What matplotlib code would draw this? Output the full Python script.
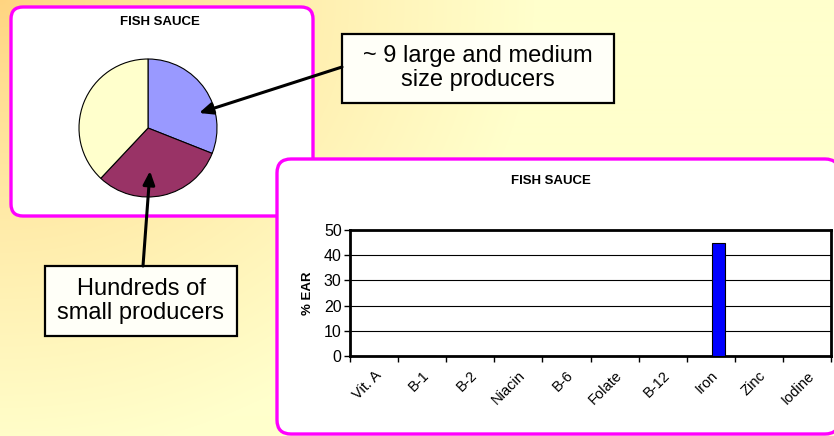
import numpy as np
import matplotlib
matplotlib.use("Agg")
import matplotlib.pyplot as plt
from matplotlib.patches import FancyBboxPatch, Rectangle

plt.rcParams['font.family'] = ['Liberation Sans', 'DejaVu Sans']

# ---- data ----
pie_title = "FISH SAUCE"
pie_labels = ["Large and medium producers", "Small producers", "Other"]
pie_values = [31, 31, 38]
pie_colors = ["#9999FF", "#993366", "#FFFFCC"]

bar_title = "FISH SAUCE"
nutrients = ["Vit. A", "B-1", "B-2", "Niacin", "B-6", "Folate", "B-12", "Iron", "Zinc", "Iodine"]
pct_ear = [0, 0, 0, 0, 0, 0, 0, 45, 0, 0]
y_ticks = [0, 10, 20, 30, 40, 50]

callout_big = "~ 9 large and medium\nsize producers"
callout_small = "Hundreds of\nsmall producers"

W, H = 834, 436
fig = plt.figure(figsize=(W / 100, H / 100), dpi=100)


def px_rect(x0, y0, x1, y1):
    return [x0 / W, 1 - y1 / H, (x1 - x0) / W, (y1 - y0) / H]


# ---- background ----
bg = fig.add_axes([0, 0, 1, 1], zorder=0)
bg.set_xlim(0, W)
bg.set_ylim(H, 0)
bg.axis("off")
yy, xx = np.mgrid[0:H, 0:W]
d = np.sqrt((xx * 0.9) ** 2 + (yy * 1.05) ** 2)
t = np.clip(d / 480.0, 0, 1) ** 0.85
c0 = np.array([255, 212, 128]) / 255.0
c1 = np.array([255, 255, 204]) / 255.0
img = c0[None, None, :] * (1 - t[..., None]) + c1[None, None, :] * t[..., None]
bg.imshow(img, extent=(0, W, H, 0), aspect="auto", interpolation="bilinear")

mag = "#FF00FF"
bg.add_patch(FancyBboxPatch((11, 7), 302, 209, boxstyle="round,pad=0,rounding_size=12",
                            facecolor="white", edgecolor=mag, linewidth=2.4, zorder=2))
bg.add_patch(FancyBboxPatch((277, 159), 562, 275, boxstyle="round,pad=0,rounding_size=14",
                            facecolor="white", edgecolor=mag, linewidth=2.4, zorder=3))
bg.text(160, 22, pie_title, ha="center", va="center", fontsize=9.5, fontweight="bold", zorder=4)
bg.text(551, 181, bar_title, ha="center", va="center", fontsize=9.5, fontweight="bold", zorder=4)

# ---- pie ----
cx, cy, r = 148, 128, 69
half = 76
axp = fig.add_axes(px_rect(cx - half, cy - half, cx + half, cy + half), zorder=1)
axp.pie(pie_values, colors=pie_colors, startangle=90, counterclock=False,
        wedgeprops=dict(edgecolor="black", linewidth=0.8), radius=1)
axp.set_xlim(-half / r, half / r)
axp.set_ylim(-half / r, half / r)
axp.set_aspect("equal")
axp.axis("off")
axp.patch.set_alpha(0)

# ---- bar chart ----
axb = fig.add_axes(px_rect(350, 230, 831, 356), zorder=1)
axb.patch.set_facecolor("white")
pos = np.arange(len(nutrients))
axb.bar(pos + 0.5 + 0.155, pct_ear, width=0.27, color="#0000FF", edgecolor="black", linewidth=0.8, zorder=3)
axb.set_xlim(0, len(nutrients))
axb.set_ylim(0, 50)
axb.set_yticks(y_ticks)
axb.set_yticklabels([str(v) for v in y_ticks], fontsize=11.5)
axb.set_xticks(np.arange(len(nutrients) + 1))
axb.set_xticklabels([])
axb.set_xticks(pos + 0.5, minor=True)
axb.set_xticklabels(nutrients, minor=True, rotation=45, ha="right", va="top",
                    rotation_mode="anchor", fontsize=10.5)
axb.tick_params(axis="x", which="major", direction="out", length=4, width=1)
axb.tick_params(axis="x", which="minor", length=0, pad=9)
axb.tick_params(axis="y", direction="out", length=4, width=1, pad=2)
axb.grid(axis="y", color="black", linewidth=0.8, zorder=1)
axb.set_axisbelow(True)
for s in axb.spines.values():
    s.set_linewidth(2)
    s.set_color("black")
axb.set_ylabel("% EAR", fontsize=9.5, fontweight="bold", labelpad=7)

# ---- overlay: callouts and arrows ----
ov = fig.add_axes([0, 0, 1, 1], zorder=5)
ov.set_xlim(0, W)
ov.set_ylim(H, 0)
ov.axis("off")
ov.patch.set_alpha(0)

ov.add_patch(Rectangle((342, 34), 272, 69, facecolor="#FFFFF8", edgecolor="black", linewidth=1.6))
ov.text(478, 68, callout_big, ha="center", va="center", fontsize=17, linespacing=1.12)
ov.add_patch(Rectangle((45, 266), 192, 70, facecolor="#FFFFF8", edgecolor="black", linewidth=1.6))
ov.text(141, 301, callout_small, ha="center", va="center", fontsize=17, linespacing=1.12)

arrow = dict(arrowstyle="-|>,head_length=0.8,head_width=0.35", color="black", linewidth=2.2,
             shrinkA=0, shrinkB=0)
ov.annotate("", xy=(199, 113), xytext=(342, 67), arrowprops=arrow)
ov.annotate("", xy=(150, 171), xytext=(143, 266), arrowprops=arrow)

fig.savefig("out.png", dpi=100)
